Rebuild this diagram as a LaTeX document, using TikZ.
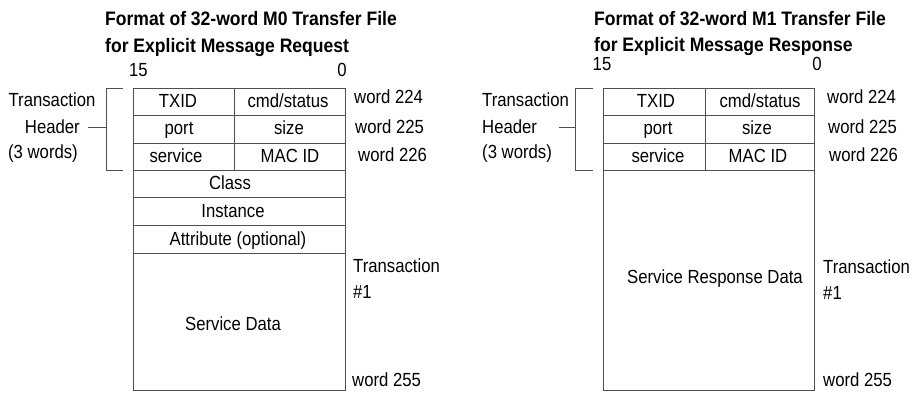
\documentclass[tikz,border=0pt]{standalone}
\usepackage{fontspec}
\setmainfont[FakeStretch=0.88]{Liberation Sans}
\newfontfamily\ttlfont[FakeStretch=0.9]{Liberation Sans}
\definecolor{ln}{HTML}{505050}
\begin{document}
\begin{tikzpicture}[x=1pt,y=-1pt,
  font=\fontsize{19}{22}\selectfont,
  txt/.style={inner sep=0pt, text height=13.6pt, text depth=0pt},
  lbl/.style={txt, anchor=west},
  ttl/.style={inner sep=0pt, text height=14pt, text depth=0pt, anchor=west, font=\ttlfont\fontsize{19.5}{22}\selectfont\bfseries},
  cell/.style={draw=ln, line width=0.9pt},
  brk/.style={draw=ln, line width=0.9pt}]
\useasboundingbox (0,0) rectangle (922,392);

% ---------- left diagram ----------
\node[ttl] (lt1) at (105,18.5) {Format of 32-word M0 Transfer File};
\node[ttl] (lt2) at (105,45.5) {for Explicit Message Request};
\node[txt] (l15) at (138.5,70) {15};
\node[txt] (l0) at (342,70) {0};

\draw[cell] (133,88) rectangle (345,390.5);
\foreach \yy in {115,143,170,197,225,253} \draw[cell] (133,\yy) -- (345,\yy);
\draw[cell] (234,88) -- (234,170);

\node[txt] (lTX) at (178,100.5) {TXID};
\node[txt] (lCmd) at (288,100.5) {cmd/status};
\node[txt] (lPort) at (179,128) {port};
\node[txt] (lSize) at (289,128) {size};
\node[txt] (lSvc) at (176,155.5) {service};
\node[txt] (lMac) at (290,155.5) {MAC ID};
\node[txt] (lCls) at (230,183) {Class};
\node[txt] (lIns) at (233,210.5) {Instance};
\node[txt] (lAtt) at (238,238.5) {Attribute (optional)};
\node[txt] (lSD) at (233,324) {Service Data};

\node[lbl] (lw224) at (354,97) {word 224};
\node[lbl] (lw225) at (355,127) {word 225};
\node[lbl] (lw226) at (358,155) {word 226};
\node[lbl] (lTr) at (353,266) {Transaction};
\node[lbl] (lN1) at (353,292) {\#1};
\node[lbl] (lw255) at (352,380) {word 255};

\draw[brk] (123,88) -- (106,88) -- (106,170) -- (123,170);
\coordinate (brL) at (106,127);
\node[txt] (lhT) at (52,100) {Transaction};
\node[txt, anchor=east] (lhH) at (80,127) {Header};
\node[txt] (lh3) at (43,152) {(3 words)};
\draw[brk] ([xshift=8pt]lhH.east) -- (brL);

% ---------- right diagram ----------
\node[ttl] (rt1) at (594,18.5) {Format of 32-word M1 Transfer File};
\node[ttl] (rt2) at (594,44.5) {for Explicit Message Response};
\node[txt] (r15) at (602,64) {15};
\node[txt] (r0) at (817,64) {0};

\draw[cell] (603,88) rectangle (814,390.5);
\foreach \yy in {115,143,170} \draw[cell] (603,\yy) -- (814,\yy);
\draw[cell] (705,88) -- (705,170);

\node[txt] (rTX) at (656,100.5) {TXID};
\node[txt] (rCmd) at (760,100.5) {cmd/status};
\node[txt] (rPort) at (658,128) {port};
\node[txt] (rSize) at (757,128) {size};
\node[txt] (rSvc) at (658,155.5) {service};
\node[txt] (rMac) at (758,155.5) {MAC ID};
\node[txt] (rSRD) at (715,277) {Service Response Data};

\node[lbl] (rw224) at (827,97) {word 224};
\node[lbl] (rw225) at (828,127) {word 225};
\node[lbl] (rw226) at (829,155) {word 226};
\node[lbl] (rTr) at (823,267) {Transaction};
\node[lbl] (rN1) at (823,293) {\#1};
\node[lbl] (rw255) at (823,380) {word 255};

\draw[brk] (593,88) -- (575,88) -- (575,170) -- (593,170);
\coordinate (brR) at (575,127);
\node[lbl] (rhT) at (482,100) {Transaction};
\node[lbl] (rhH) at (482,127) {Header};
\node[lbl] (rh3) at (482,152) {(3 words)};
\draw[brk] (559,127) -- (brR);
\end{tikzpicture}
\end{document}
